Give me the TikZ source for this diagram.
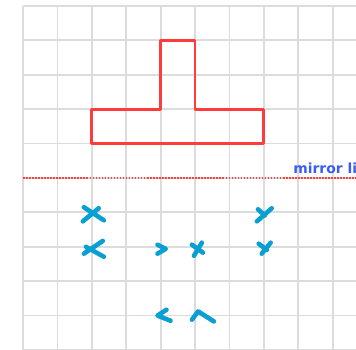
\documentclass[tikz,border=0pt]{standalone}
\usepackage{fontspec}
\newfontfamily\labelfont{DejaVu Sans}
\definecolor{gridgray}{HTML}{DCDCDC}
\definecolor{shapered}{HTML}{FF3B3B}
\definecolor{markblue}{HTML}{0A9FD2}
\definecolor{labelblue}{HTML}{3A5CF0}
\begin{document}
\begin{tikzpicture}[
    gridline/.style={gridgray, line width=1.5pt},
    shapeline/.style={shapered, line width=2.3pt, line join=round},
    mirrorline/.style={shapered, line width=2.2pt, dash pattern=on 1.3pt off 1.2pt},
    markstroke/.style={markblue, line width=3.8pt, line cap=round, line join=round}
]

\useasboundingbox (-0.669,0) rectangle (9.68,10.174);
\clip (-0.669,0) rectangle (9.68,10.174);

\draw[gridline] (0,0) grid (9.68,10);

% the T shape
\draw[shapeline] (4,9) -- (5,9) -- (5,7) -- (7,7) -- (7,6) -- (2,6) -- (2,7) -- (4,7) -- cycle;

% mirror line
\draw[mirrorline] (0,5) -- (9.68,5);
\node[anchor=base west, inner sep=0pt, text=labelblue, font=\labelfont\bfseries\fontsize{11.5}{12}\selectfont] (mirrorlabel) at (7.85,5.12) {mirror line};

% reflected points
\draw[markstroke, shift={(2,4)}] (-0.23,0.15) -- (0.35,-0.23) (-0.26,-0.26) -- (0.2,0.12);
\draw[markstroke, shift={(2,3)}] (0.32,0.17) -- (-0.23,-0.2) (-0.17,0) -- (0.35,-0.29);
\draw[markstroke, shift={(4,3)}] (-0.09,0.06) -- (0.15,-0.06) -- (-0.09,-0.2);
\draw[markstroke, shift={(5,3)}] (-0.09,0.06) -- (0.23,-0.17) (0.2,0.12) -- (-0.03,-0.26);
\draw[markstroke, shift={(7,4)}] (-0.17,0.09) -- (0.03,-0.09) (0.23,0.12) -- (-0.2,-0.26);
\draw[markstroke, shift={(7,3)}] (-0.15,0.09) -- (0.09,-0.09) (0.2,0.12) -- (-0.06,-0.2);
\draw[markstroke, shift={(4,1)}] (0.17,0.17) -- (-0.09,0) -- (0.29,-0.15);
\draw[markstroke, shift={(5,1)}] (-0.09,-0.12) -- (0.09,0.12) -- (0.55,-0.17);
\end{tikzpicture}
\end{document}
